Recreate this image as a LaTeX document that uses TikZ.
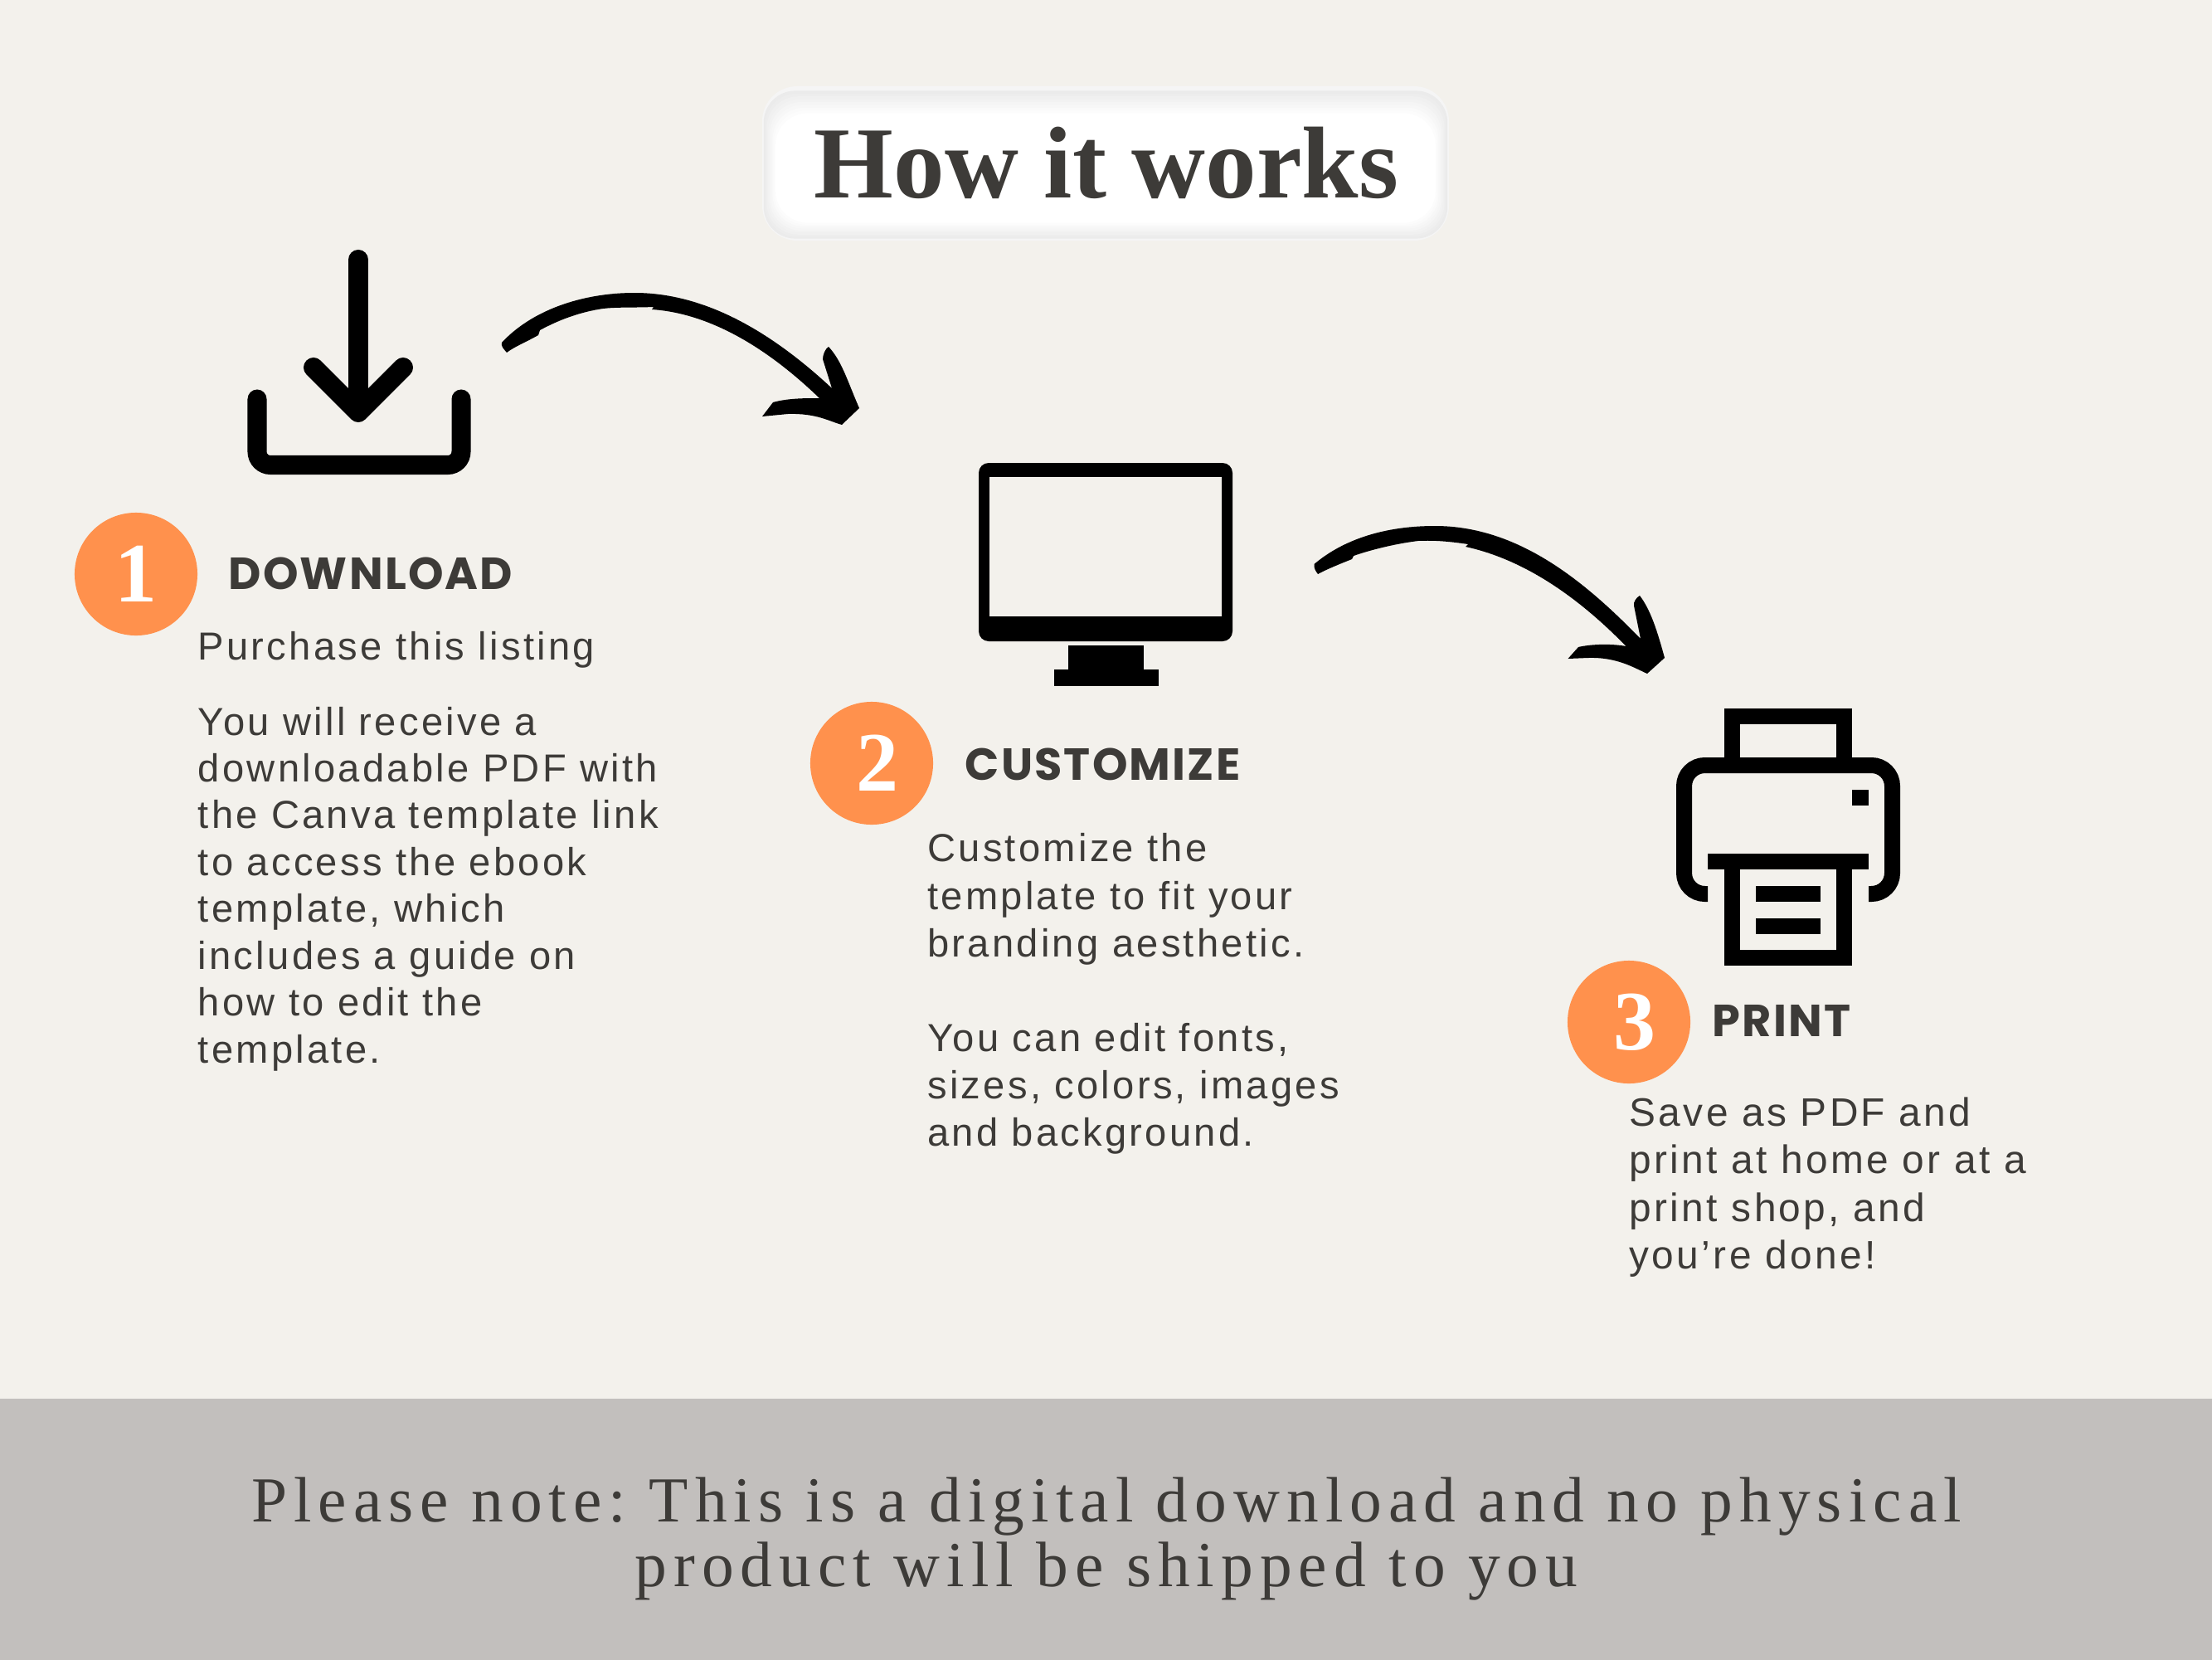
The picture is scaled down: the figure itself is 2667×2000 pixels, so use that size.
\documentclass[tikz,border=0pt]{standalone}
\usepackage{fontspec}
\setmainfont[LetterSpace=7]{Liberation Sans}
\newfontfamily\titlefont{Liberation Serif}
\newfontfamily\notefont[LetterSpace=10.4]{Liberation Serif}
\newfontfamily\headfont[LetterSpace=4]{Poppins}

\definecolor{paper}{HTML}{F3F1EC}
\definecolor{band}{HTML}{C2BFBD}
\definecolor{ink}{HTML}{3D3B38}
\definecolor{badge}{HTML}{FF914D}

\tikzset{
    icon/.style={line width=0.19cm, black},
    numbadge/.style={circle, fill=badge, text=white, minimum size=1.48cm, inner sep=0pt, font=\titlefont\bfseries\fontsize{29}{29}\selectfont},
    heading/.style={anchor=base west, inner sep=0pt, text=ink, font=\headfont\bfseries\fontsize{15.4}{18}\selectfont},
    bodytext/.style={anchor=north west, inner sep=0pt, align=left, text=ink, font=\fontsize{13.4}{16.05}\selectfont},
}

\begin{document}
\begin{tikzpicture}[x=0.01cm, y=-0.01cm]
    \useasboundingbox (0,0) rectangle (2667,2000);
    \fill[paper] (-5,-5) rectangle (2672,2005);
    \fill[band] (-5,1686) rectangle (2672,2005);

    % Title box
    \fill[rounded corners=0.42cm, black!4] (919,104) rectangle (1747,290);
    \foreach \i in {1,...,9} {
        \pgfmathsetmacro{\tint}{9-\i}
        \fill[rounded corners=0.38cm, black!\tint] (919+\i*1.8,106+\i*3.4) rectangle (1747-\i*1.8,290-\i*2.4);
    }
    \node[inner sep=0pt, text=ink, font=\titlefont\bfseries\fontsize{35}{40}\selectfont] (title) at (1334,196) {How it works};

    % Download icon
    \draw[icon, line width=0.24cm, line cap=round, line join=round] (432,313) -- (432,490);
    \draw[icon, line width=0.24cm, line cap=round, line join=round] (378,443) -- (432,497) -- (486,443);
    \draw[icon, line width=0.23cm, line cap=round, rounded corners=0.16cm] (310,481) -- (310,560.5) -- (556,560.5) -- (556,481);

    % Arrow 1
    \fill[black] (605,413) .. controls (640,375) and (700,353) .. (765,353)
        .. controls (850,353) and (930,400) .. (1003,468) -- (992,433)
        .. controls (992,428) and (995,420) .. (999,418)
        .. controls (1015,435) and (1022,460) .. (1036,492) -- (1015,512)
        .. controls (1000,508) and (985,498) .. (950,499) -- (919,502) -- (932,485)
        .. controls (950,480) and (970,480) .. (988,480)
        .. controls (930,424) and (860,378) .. (786,373) -- (788,370)
        .. controls (765,371) and (745,370) .. (727,372)
        .. controls (700,376) and (675,385) .. (651,398) -- (649,404)
        .. controls (635,412) and (620,418) .. (611,425)
        .. controls (607,420) and (604,418) .. cycle;

    % Monitor icon
    \fill[black, rounded corners=0.12cm] (1180,558) rectangle (1486,773);
    \fill[paper] (1193,575) rectangle (1473,743);
    \fill[black] (1288,778) rectangle (1378.5,807);
    \fill[black] (1270.5,807) rectangle (1397,827);

    % Arrow 2
    \fill[black] (1584.5,680) .. controls (1620,650) and (1670,634) .. (1730,634)
        .. controls (1830,634) and (1910,700) .. (1978,770) -- (1970,730)
        .. controls (1969,726) and (1973,720) .. (1977,718)
        .. controls (1990,735) and (1998,760) .. (2007,793) -- (1986,812)
        .. controls (1970,805) and (1950,792) .. (1915,793) -- (1890.5,794) -- (1903,780)
        .. controls (1920,776) and (1945,776) .. (1960.5,779)
        .. controls (1905,722) and (1840,675) .. (1767,659) -- (1770,656)
        .. controls (1750,653) and (1730,651) .. (1710,652)
        .. controls (1685,655) and (1655,662) .. (1632,670) -- (1630,674)
        .. controls (1615,680) and (1600,686) .. (1589,692)
        .. controls (1586,688) and (1584,685) .. cycle;

    % Printer icon
    \draw[icon] (2088.5,922) -- (2088.5,863.5) -- (2223.5,863.5) -- (2223.5,922);
    \draw[icon, rounded corners=0.25cm] (2059,1077.5) -- (2030.5,1077.5) -- (2030.5,922.5) -- (2281.5,922.5) -- (2281.5,1077.5) -- (2253,1077.5);
    \fill[black] (2059,1029) rectangle (2253,1048);
    \draw[icon] (2088.5,1048) -- (2088.5,1154.5) -- (2223.5,1154.5) -- (2223.5,1048);
    \fill[black] (2117,1068) rectangle (2195,1087);
    \fill[black] (2117,1107) rectangle (2195,1126);
    \fill[black] (2233,952) rectangle (2253,971);

    % Step 1
    \node[numbadge] (badgeone) at (164,692) {1};
    \node[heading] (headone) at (275,710) {DOWNLOAD};
    \node[bodytext] (bodyone) at (238,761) {Purchase this listing\\[9.6pt]
        You will receive a\\downloadable PDF with\\the Canva template link\\to access the ebook\\template, which\\includes a guide on\\how to edit the\\template.};

    % Step 2
    \node[numbadge] (badgetwo) at (1051,920) {\kern4pt 2};
    \node[heading] (headtwo) at (1163,940) {CUSTOMIZE};
    \node[bodytext, font=\fontsize{13.4}{16.25}\selectfont] (bodytwo) at (1117.5,1004) {Customize the\\template to fit your\\branding aesthetic.\\[16.25pt]
        You can edit fonts,\\sizes, colors, images\\and background.};

    % Step 3
    \node[numbadge] (badgethree) at (1964,1232) {\kern4pt 3};
    \node[heading] (headthree) at (2064,1249) {PRINT};
    \node[bodytext, font=\fontsize{13.6}{16.35}\selectfont] (bodythree) at (1964,1322) {Save as PDF and\\print at home or at a\\print shop, and\\you’re done!};

    % Note
    \node[inner sep=0pt, align=center, text=ink, font=\notefont\frenchspacing\fontsize{22}{22.2}\selectfont] (note) at (1334,1855) {Please note: This is a digital download and no physical\\product will be shipped to you};
\end{tikzpicture}
\end{document}
